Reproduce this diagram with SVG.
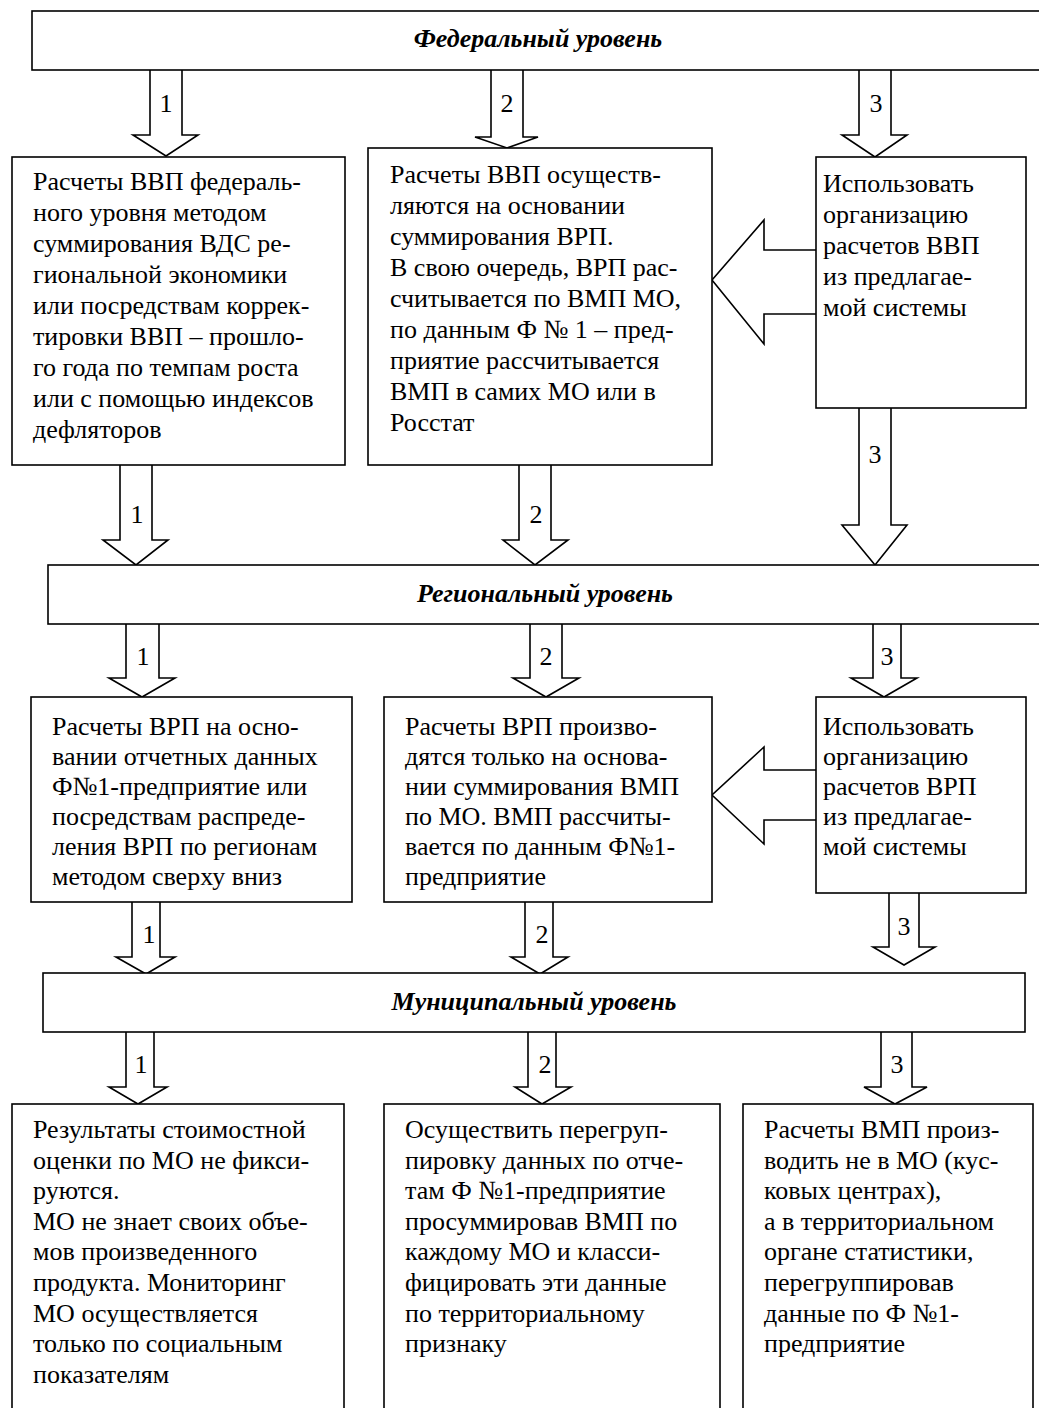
<svg xmlns="http://www.w3.org/2000/svg" width="1039" height="1408" viewBox="0 0 1039 1408">
<style>
.b{fill:#fff;stroke:#000;stroke-width:1.6}
.a{fill:#fff;stroke:#000;stroke-width:1.6;stroke-linejoin:miter}
text{font-family:"Liberation Serif","Times New Roman",serif;font-size:26px;fill:#000}
.t{font-weight:bold;font-style:italic;text-anchor:middle}
.n{text-anchor:middle}
</style>
<rect width="1039" height="1408" fill="#fff"/>
<g id="connectors">
<path class="a" d="M150 70 L150 135 L133 135 L166 156 L198 135 L182 135 L182 70"/>
<path class="a" d="M491 70 L491 137 L475 137 L507 148 L538 137 L523 137 L523 70"/>
<path class="a" d="M859 70 L859 135 L842 135 L875 157 L907 135 L891 135 L891 70"/>
<path class="a" d="M816 250 L764 250 L764 220 L712 280 L764 344 L764 314 L816 314"/>
<path class="a" d="M120 465 L120 540 L103 540 L136 565 L168 540 L152 540 L152 465"/>
<path class="a" d="M519 465 L519 540 L503 540 L535 565 L568 540 L551 540 L551 465"/>
<path class="a" d="M859 408 L859 525 L842 525 L875 565 L907 525 L891 525 L891 408"/>
<path class="a" d="M126 624 L126 678 L109 678 L142 697 L175 678 L159 678 L159 624"/>
<path class="a" d="M530 624 L530 678 L513 678 L546 697 L579 678 L562 678 L562 624"/>
<path class="a" d="M873 624 L873 678 L851 678 L884 697 L917 678 L901 678 L901 624"/>
<path class="a" d="M816 770 L764 770 L764 747 L712 795 L764 844 L764 820 L816 820"/>
<path class="a" d="M132 902 L132 957 L116 957 L146 974 L175 957 L160 957 L160 902"/>
<path class="a" d="M525 902 L525 957 L511 957 L540 974 L568 957 L553 957 L553 902"/>
<path class="a" d="M889 893 L889 947 L873 947 L904 965 L935 947 L919 947 L919 893"/>
<path class="a" d="M126 1032 L126 1087 L109 1087 L138 1104 L167 1087 L154 1087 L154 1032"/>
<path class="a" d="M528 1032 L528 1087 L515 1087 L542 1104 L571 1087 L556 1087 L556 1032"/>
<path class="a" d="M881 1032 L881 1087 L864 1087 L895 1104 L927 1087 L912 1087 L912 1032"/>
<text class="n" x="166" y="112">1</text>
<text class="n" x="507" y="112">2</text>
<text class="n" x="876" y="112">3</text>
<text class="n" x="137" y="523">1</text>
<text class="n" x="536" y="523">2</text>
<text class="n" x="875" y="463">3</text>
<text class="n" x="143" y="665">1</text>
<text class="n" x="546" y="665">2</text>
<text class="n" x="887" y="665">3</text>
<text class="n" x="149" y="943">1</text>
<text class="n" x="542" y="943">2</text>
<text class="n" x="904" y="935">3</text>
<text class="n" x="141" y="1073">1</text>
<text class="n" x="545" y="1073">2</text>
<text class="n" x="897" y="1073">3</text>
</g>
<g id="federal">
<rect class="b" x="32" y="11" width="1013" height="59"/>
<text class="t" x="538" y="47">Федеральный уровень</text>
</g>
<g id="fed1">
<rect class="b" x="12" y="157" width="333" height="308"/>
<text x="33" y="190">Расчеты ВВП федераль-</text>
<text x="33" y="221">ного уровня методом</text>
<text x="33" y="252">суммирования ВДС ре-</text>
<text x="33" y="283">гиональной экономики</text>
<text x="33" y="314">или посредствам коррек-</text>
<text x="33" y="345">тировки ВВП – прошло-</text>
<text x="33" y="376">го года по темпам роста</text>
<text x="33" y="407">или с помощью индексов</text>
<text x="33" y="438">дефляторов</text>
</g>
<g id="fed2">
<rect class="b" x="368" y="148" width="344" height="317"/>
<text x="390" y="183">Расчеты ВВП осуществ-</text>
<text x="390" y="214">ляются на основании</text>
<text x="390" y="245">суммирования ВРП.</text>
<text x="390" y="276">В свою очередь, ВРП рас-</text>
<text x="390" y="307">считывается по ВМП МО,</text>
<text x="390" y="338">по данным Ф № 1 – пред-</text>
<text x="390" y="369">приятие рассчитывается</text>
<text x="390" y="400">ВМП в самих МО или в</text>
<text x="390" y="431">Росстат</text>
</g>
<g id="fed3">
<rect class="b" x="816" y="157" width="210" height="251"/>
<text x="823" y="192">Использовать</text>
<text x="823" y="223">организацию</text>
<text x="823" y="254">расчетов ВВП</text>
<text x="823" y="285">из предлагае-</text>
<text x="823" y="316">мой системы</text>
</g>
<g id="regional">
<rect class="b" x="48" y="565" width="997" height="59"/>
<text class="t" x="545" y="602">Региональный уровень</text>
</g>
<g id="reg1">
<rect class="b" x="31" y="697" width="321" height="205"/>
<text x="52" y="735">Расчеты ВРП на осно-</text>
<text x="52" y="765">вании отчетных данных</text>
<text x="52" y="795">Ф№1-предприятие или</text>
<text x="52" y="825">посредствам распреде-</text>
<text x="52" y="855">ления ВРП по регионам</text>
<text x="52" y="885">методом сверху вниз</text>
</g>
<g id="reg2">
<rect class="b" x="384" y="697" width="328" height="205"/>
<text x="405" y="735">Расчеты ВРП произво-</text>
<text x="405" y="765">дятся только на основа-</text>
<text x="405" y="795">нии суммирования ВМП</text>
<text x="405" y="825">по МО. ВМП рассчиты-</text>
<text x="405" y="855">вается по данным Ф№1-</text>
<text x="405" y="885">предприятие</text>
</g>
<g id="reg3">
<rect class="b" x="816" y="697" width="210" height="196"/>
<text x="823" y="735">Использовать</text>
<text x="823" y="765">организацию</text>
<text x="823" y="795">расчетов ВРП</text>
<text x="823" y="825">из предлагае-</text>
<text x="823" y="855">мой системы</text>
</g>
<g id="municipal">
<rect class="b" x="43" y="973" width="982" height="59"/>
<text class="t" x="534" y="1010">Муниципальный уровень</text>
</g>
<g id="mun1">
<rect class="b" x="12" y="1104" width="332" height="320"/>
<text x="33" y="1138">Результаты стоимостной</text>
<text x="33" y="1168.6">оценки по МО не фикси-</text>
<text x="33" y="1199.2">руются.</text>
<text x="33" y="1229.8">МО не знает своих объе-</text>
<text x="33" y="1260.4">мов произведенного</text>
<text x="33" y="1291">продукта. Мониторинг</text>
<text x="33" y="1321.6">МО осуществляется</text>
<text x="33" y="1352.2">только по социальным</text>
<text x="33" y="1382.8">показателям</text>
</g>
<g id="mun2">
<rect class="b" x="384" y="1104" width="336" height="320"/>
<text x="405" y="1138">Осуществить перегруп-</text>
<text x="405" y="1168.6">пировку данных по отче-</text>
<text x="405" y="1199.2">там Ф №1-предприятие</text>
<text x="405" y="1229.8">просуммировав ВМП по</text>
<text x="405" y="1260.4">каждому МО и класси-</text>
<text x="405" y="1291">фицировать эти данные</text>
<text x="405" y="1321.6">по территориальному</text>
<text x="405" y="1352.2">признаку</text>
</g>
<g id="mun3">
<rect class="b" x="743" y="1104" width="290" height="320"/>
<text x="764" y="1138">Расчеты ВМП произ-</text>
<text x="764" y="1168.6">водить не в МО (кус-</text>
<text x="764" y="1199.2">ковых центрах),</text>
<text x="764" y="1229.8">а в территориальном</text>
<text x="764" y="1260.4">органе статистики,</text>
<text x="764" y="1291">перегруппировав</text>
<text x="764" y="1321.6">данные по Ф №1-</text>
<text x="764" y="1352.2">предприятие</text>
</g>
</svg>
